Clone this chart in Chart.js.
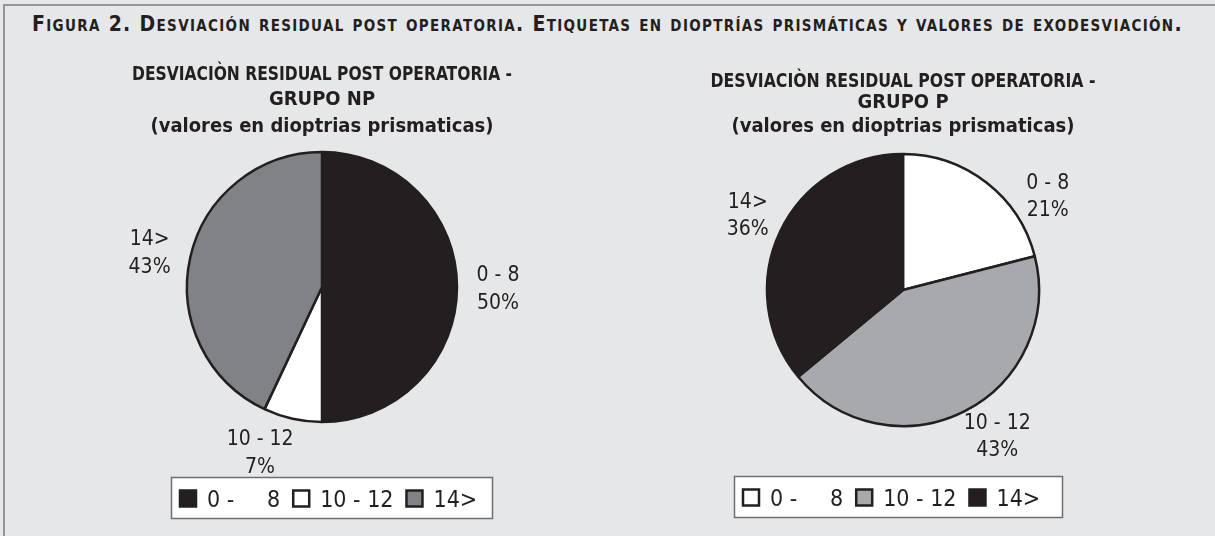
<!DOCTYPE html>
<html><head><meta charset="utf-8">
<script src="https://cdn.jsdelivr.net/npm/chart.js@4.4.1/dist/chart.umd.min.js"></script>
<style>
html,body{margin:0;padding:0;width:1215px;height:536px;overflow:hidden;background:#e6e7e8;}
#frame{position:absolute;left:3px;top:4px;width:1300px;height:600px;border-top:2px solid #939598;border-left:2px solid #939598;}
#fig{position:absolute;left:32px;top:11px;white-space:nowrap;font-family:"DejaVu Sans Condensed","DejaVu Sans",sans-serif;font-weight:bold;font-variant:small-caps;font-size:21px;color:#231f20;line-height:26px;}
canvas{position:absolute;left:0;top:0;}
</style></head>
<body>
<div id="frame"></div>
<div id="fig">Figura 2. Desviación residual post operatoria. Etiquetas en dioptrías prismáticas y valores de exodesviación.</div>
<canvas id="c1" width="1215" height="536"></canvas>
<canvas id="c2" width="1215" height="536"></canvas>
<script>
// ---- data ----
const categories = ['0 - 8', '10 - 12', '14>'];
const legendTexts = ['0 -     8', '10 - 12', '14>'];
const valuesNP = [50, 7, 43];
const valuesP = [21, 43, 36];
const titleNP = ['DESVIACIÒN RESIDUAL POST OPERATORIA -', 'GRUPO NP', '(valores en dioptrias prismaticas)'];
const titleP = ['DESVIACIÒN RESIDUAL POST OPERATORIA -', 'GRUPO P', '(valores en dioptrias prismaticas)'];
const colorsNP = ['#231f20', '#ffffff', '#808285'];
const colorsP = ['#ffffff', '#a7a9ac', '#231f20'];

// ---- layout / style ----
const FONT = '"DejaVu Sans Condensed","DejaVu Sans",sans-serif';
const INK = '#231f20';
const layoutNP = {cx: 322, cy: 287, r: 135, titleY: [73, 97.5, 124.5], titleMaxW: [380, 999, 999], labelDist: 176, labelShift: [0, 8, -1], lineGap: 28,
  legend: {left: 171, width: 321, top: 477, height: 41}};
const layoutP = {cx: 903, cy: 290, r: 136, titleY: [79.5, 100.5, 124.5], titleMaxW: [385, 999, 999], labelDist: 173, labelShift: [19, -6, 1], lineGap: 27,
  legend: {left: 734, width: 328, top: 476, height: 41}};

// fit figure title width
(function(){
  const el = document.getElementById('fig');
  const target = 1151;
  const n = el.textContent.length;
  const w = el.getBoundingClientRect().width;
  el.style.letterSpacing = ((target - w) / n) + 'px';
})();

const decorPlugin = {
  id: 'decor',
  afterDatasetsDraw(chart) {
    const L = chart.options.plugins.decor;
    const ctx = chart.ctx;
    const meta = chart.getDatasetMeta(0);
    const vals = chart.data.datasets[0].data;
    const total = vals.reduce((a, b) => a + b, 0);
    ctx.save();
    ctx.fillStyle = INK;
    ctx.textAlign = 'center';
    ctx.textBaseline = 'alphabetic';
    // titles
    ctx.font = 'bold 20px ' + FONT;
    L.title.forEach((t, i) => ctx.fillText(t, L.cx, L.titleY[i] + 7.3, L.titleMaxW[i]));
    // slice labels
    ctx.font = '21px ' + FONT;
    meta.data.forEach((arc, i) => {
      const mid = (arc.startAngle + arc.endAngle) / 2 + L.labelShift[i] * Math.PI / 180;
      const x = arc.x + Math.cos(mid) * L.labelDist;
      const y = arc.y + Math.sin(mid) * L.labelDist;
      const pct = Math.round(vals[i] / total * 100) + '%';
      ctx.fillText(chart.data.labels[i], x, y - L.lineGap / 2 + 7.6);
      ctx.fillText(pct, x, y + L.lineGap / 2 + 7.6);
    });
    // legend box
    const g = L.legend;
    ctx.fillStyle = '#ffffff';
    ctx.fillRect(g.left, g.top, g.width, g.height);
    ctx.strokeStyle = '#6d6e71';
    ctx.lineWidth = 1.5;
    ctx.strokeRect(g.left + 0.5, g.top + 0.5, g.width, g.height);
    ctx.font = '23px ' + FONT;
    ctx.textAlign = 'left';
    const colors = chart.data.datasets[0].backgroundColor;
    let x = g.left + 8;
    const midY = g.top + g.height / 2 + 1;
    legendTexts.forEach((t, i) => {
      ctx.fillStyle = colors[i];
      ctx.fillRect(x + 1, midY - 8, 16, 16);
      ctx.strokeStyle = INK;
      ctx.lineWidth = 2.5;
      ctx.strokeRect(x + 1, midY - 8, 16, 16);
      x += 18 + 10;
      ctx.fillStyle = INK;
      ctx.fillText(t, x, midY + 8.4);
      x += ctx.measureText(t).width + 12;
    });
    ctx.restore();
  }
};

function makePie(id, values, colors, title, L) {
  return new Chart(document.getElementById(id), {
    type: 'pie',
    data: {
      labels: categories,
      datasets: [{data: values, backgroundColor: colors, borderColor: INK, borderWidth: 2.5}]
    },
    options: {
      responsive: false,
      animation: false,
      devicePixelRatio: 1,
      events: [],
      radius: L.r,
      layout: {padding: {left: L.cx - L.r, right: 1215 - (L.cx + L.r), top: L.cy - L.r, bottom: 536 - (L.cy + L.r)}},
      plugins: {
        legend: {display: false},
        tooltip: {enabled: false},
        decor: Object.assign({title: title}, L)
      }
    },
    plugins: [decorPlugin]
  });
}

makePie('c1', valuesNP, colorsNP, titleNP, layoutNP);
makePie('c2', valuesP, colorsP, titleP, layoutP);
</script>
</body></html>
